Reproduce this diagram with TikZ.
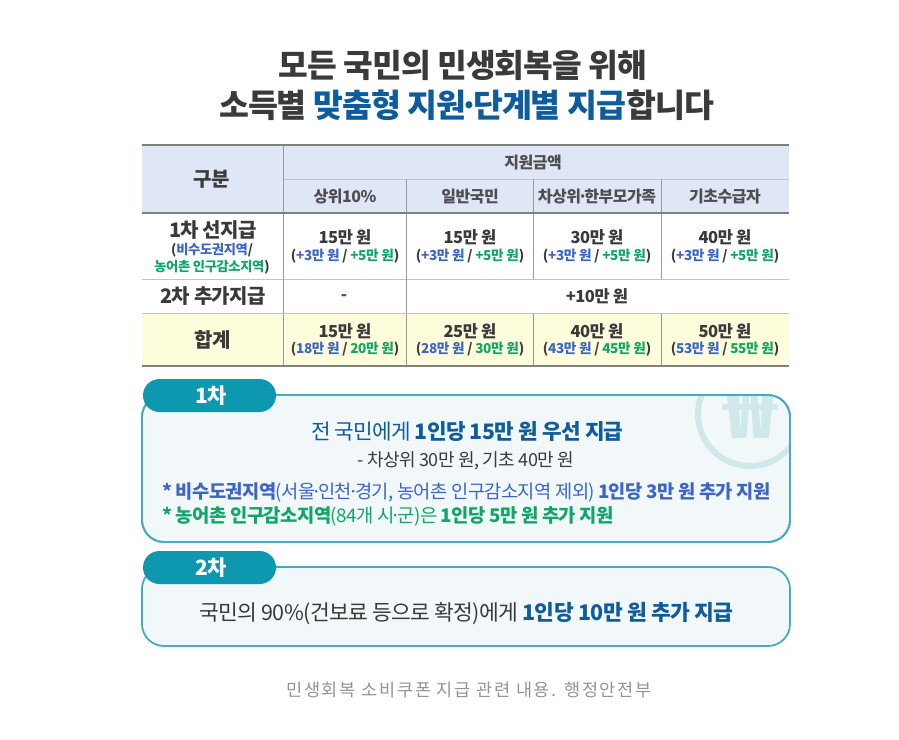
\documentclass[tikz,border=0pt]{standalone}
\usepackage{fontspec}
\setmainfont{Noto Sans CJK KR}[LetterSpace=-3]
\newfontfamily\capfont{Noto Sans CJK KR}[LetterSpace=10]
\definecolor{ink}{HTML}{3A3A3A}
\definecolor{navy}{HTML}{0F5C9C}
\definecolor{bluet}{HTML}{3D66C4}
\definecolor{greent}{HTML}{12A568}
\definecolor{headbg}{HTML}{DFE6F6}
\definecolor{sumbg}{HTML}{FDFDDC}
\definecolor{teal}{HTML}{0E98B0}
\definecolor{tealline}{HTML}{45ABBE}
\definecolor{boxbg}{HTML}{F2F8FA}
\definecolor{wonc}{HTML}{CFE8EA}
\definecolor{rulec}{HTML}{C4C4C4}
\definecolor{rulev}{HTML}{9A9A9A}
\definecolor{rulek}{HTML}{808080}
\newcommand{\B}[1]{{\color{bluet}#1}}
\newcommand{\G}[1]{{\color{greent}#1}}
\newcommand{\fs}[1]{\fontsize{#1}{#1}\selectfont}
\newcommand{\dt}{\kern-.2em·\kern-.2em}
\tikzset{
 x=1pt,y=-1pt,
 lbl/.style={inner sep=0pt,text=ink,align=center},
 head/.style={lbl,font=\fs{16}\bfseries,text=ink!90},
 side/.style={lbl,font=\fs{20}\bfseries},
 amt/.style={lbl,font=\fs{16.5}\bfseries},
 sub/.style={lbl,font=\fs{13.6}\bfseries},
 thin rule/.style={draw=rulec,line width=1pt},
 vert rule/.style={draw=rulev,line width=1pt},
 thick rule/.style={draw=rulek,line width=1.6pt},
 card/.style={draw=tealline,line width=1.8pt,fill=boxbg,rounded corners=22pt},
 pill/.style={fill=teal,rounded corners=16.5pt},
}
\begin{document}
\begin{tikzpicture}
\useasboundingbox (0,0) rectangle (899,739);
\fill[white] (0,0) rectangle (899,739);
% title
\node[lbl,font=\fs{32.3}\bfseries] (t1) at (463,65) {모든 국민의 민생회복을 위해};
\node[lbl,font=\fs{32.5}\bfseries] (t2) at (466.5,105.5) {소득별 {\color{navy}맞춤형 지원\dt 단계별 지급}합니다};
% table fills
\fill[headbg] (142,145) rectangle (789,213);
\fill[sumbg] (142,313) rectangle (789,366);
% rules
\draw[thin rule] (283,179) -- (789,179);
\draw[thin rule] (142,279) -- (789,279);
\draw[vert rule] (283,145) -- (283,366);
\draw[vert rule] (406,179) -- (406,366);
\draw[vert rule] (533,179) -- (533,279);
\draw[vert rule] (533,313) -- (533,366);
\draw[vert rule] (661,179) -- (661,279);
\draw[vert rule] (661,313) -- (661,366);
\draw[thick rule] (142,145) -- (789,145);
\draw[thick rule] (142,213) -- (789,213);
\draw[thin rule] (142,313) -- (789,313);
\draw[thick rule] (142,366) -- (789,366);
% header
\node[side] (gubun) at (212,179) {구분};
\node[head] (jiwon) at (533,162.5) {지원금액};
\node[head] (h1) at (345,196.5) {상위10\%};
\node[head] (h2) at (470,196.5) {일반국민};
\node[head] (h3) at (597,196.5) {차상위\dt 한부모가족};
\node[head] (h4) at (725,196.5) {기초수급자};
% row 1
\node[side] (r1) at (213,230) {1차 선지급};
\node[lbl,font=\fs{13.3}\bfseries] (r1a) at (212,250) {(\B{비수도권지역}/};
\node[lbl,font=\fs{13.3}\bfseries] (r1b) at (212,267) {\G{농어촌 인구감소지역})};
\node[amt] (a1) at (345,237.5) {15만 원};
\node[amt] (a2) at (470,237.5) {15만 원};
\node[amt] (a3) at (597,237.5) {30만 원};
\node[amt] (a4) at (725,237.5) {40만 원};
\node[sub] (b1) at (345,256) {(\B{+3만 원} / \G{+5만 원})};
\node[sub] (b2) at (470,256) {(\B{+3만 원} / \G{+5만 원})};
\node[sub] (b3) at (597,256) {(\B{+3만 원} / \G{+5만 원})};
\node[sub] (b4) at (725,256) {(\B{+3만 원} / \G{+5만 원})};
% row 2
\node[side] (r2) at (213,296) {2차 추가지급};
\node[amt,text=navy] (dash) at (344,298) {-};
\node[amt] (plus) at (597,296.5) {+10만 원};
% row 3
\node[side] (r3) at (213,340) {합계};
\node[amt] (c1) at (345,331.5) {15만 원};
\node[amt] (c2) at (470,331.5) {25만 원};
\node[amt] (c3) at (597,331.5) {40만 원};
\node[amt] (c4) at (725,331.5) {50만 원};
\node[sub] (d1) at (345,349.5) {(\B{18만 원} / \G{20만 원})};
\node[sub] (d2) at (470,349.5) {(\B{28만 원} / \G{30만 원})};
\node[sub] (d3) at (597,349.5) {(\B{43만 원} / \G{45만 원})};
\node[sub] (d4) at (725,349.5) {(\B{53만 원} / \G{55만 원})};
% card 1
\draw[card] (142,395) rectangle (790,542);
\begin{scope}
\clip[rounded corners=22pt] (142,395) rectangle (790,542);
\draw[wonc,line width=6pt] (750,414) circle (52);
\node[inner sep=0pt,text=wonc,font=\fs{85}\bfseries] (won) at (750,408) {₩};
\end{scope}
\draw[draw=tealline,line width=1.8pt,rounded corners=22pt] (142,395) rectangle (790,542);
\fill[pill] (143,379) rectangle (276,412);
\node[lbl,text=white,font=\fs{21}\bfseries] (p1) at (211,396) {1차};
\node[lbl,font=\fs{21.3},text=navy] (l1) at (467,431.5) {전 국민에게 \textbf{1인당 15만 원 우선 지급}};
\node[lbl,font=\fs{18}] (l2) at (466,460.5) {- 차상위 30만 원, 기초 40만 원};
\node[lbl,anchor=west,font=\fs{18.7},text=bluet] (l3) at (162,492.5) {\textbf{* 비수도권지역}(서울\dt 인천\dt 경기, 농어촌 인구감소지역 제외) \textbf{1인당 3만 원 추가 지원}};
\node[lbl,anchor=west,font=\fs{18.8},text=greent] (l4) at (162,516) {\textbf{* 농어촌 인구감소지역}(84개 시\dt 군)은 \textbf{1인당 5만 원 추가 지원}};
% card 2
\draw[card] (142,567) rectangle (790,646);
\fill[pill] (143,551) rectangle (276,584);
\node[lbl,text=white,font=\fs{21}\bfseries] (p2) at (211,568) {2차};
\node[lbl,font=\fs{21.5}] (l5) at (466,613.5) {국민의 90\%(건보료 등으로 확정)에게 {\color{navy}\textbf{1인당 10만 원 추가 지급}}};
% caption
\node[inner sep=0pt,text=black!42,font=\capfont\fs{17.5}] (cap) at (469,690) {민생회복 소비쿠폰 지급 관련 내용. 행정안전부};
\end{tikzpicture}
\end{document}
